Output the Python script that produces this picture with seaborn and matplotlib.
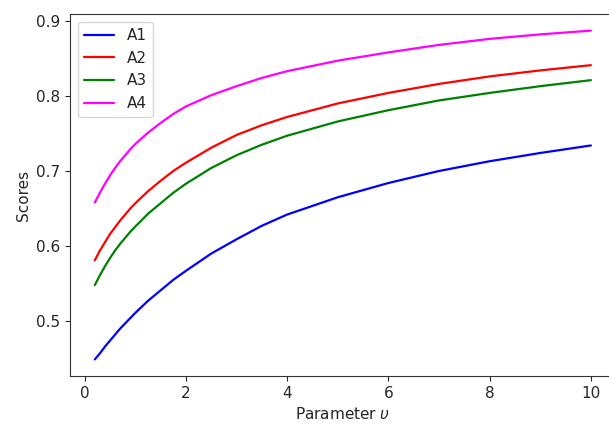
import numpy as np
import pandas as pd
import matplotlib
matplotlib.use("Agg")
import matplotlib.pyplot as plt
import seaborn as sns

# values
param = [0.2, 0.3, 0.4, 0.5, 0.6, 0.7, 0.8, 0.9, 1.0, 1.25, 1.5, 1.75, 2.0, 2.5, 3.0, 3.5,
         4.0, 5.0, 6.0, 7.0, 8.0, 9.0, 10.0]
a1 = [0.449, 0.457, 0.466, 0.474, 0.482, 0.490, 0.497, 0.504, 0.511, 0.527, 0.541, 0.555, 0.567,
      0.590, 0.609, 0.627, 0.642, 0.665, 0.684, 0.700, 0.713, 0.724, 0.734]
a2 = [0.581, 0.594, 0.605, 0.616, 0.625, 0.634, 0.642, 0.650, 0.657, 0.673, 0.687, 0.700, 0.711,
      0.731, 0.748, 0.761, 0.772, 0.790, 0.804, 0.816, 0.826, 0.834, 0.841]
a3 = [0.548, 0.561, 0.573, 0.584, 0.594, 0.603, 0.611, 0.619, 0.626, 0.643, 0.657, 0.671, 0.683,
      0.704, 0.721, 0.735, 0.747, 0.766, 0.781, 0.794, 0.804, 0.813, 0.821]
a4 = [0.658, 0.671, 0.683, 0.694, 0.704, 0.713, 0.721, 0.729, 0.736, 0.751, 0.764, 0.776, 0.786,
      0.801, 0.813, 0.824, 0.833, 0.847, 0.858, 0.868, 0.876, 0.882, 0.887]
names = ["A1", "A2", "A3", "A4"]
colors = ["blue", "red", "green", "magenta"]

# long format for seaborn
df = pd.concat([pd.DataFrame({"x": param, "score": s, "alt": n})
                for n, s in zip(names, [a1, a2, a3, a4])])

sns.set_style("ticks")
plt.rcParams["axes.edgecolor"] = "#333333"

fig = plt.figure(figsize=(6.09, 4.3), dpi=100)
ax = fig.add_axes([0.115, 0.126, 0.896, 0.841])
sns.lineplot(data=df, x="x", y="score", hue="alt", palette=dict(zip(names, colors)),
             linewidth=1.6, ax=ax)

# original picture is cropped at the right, so no right spine shows
ax.spines["right"].set_visible(False)
ax.set_xlim(-0.29, 10.49)
ax.set_xticks([0, 2, 4, 6, 8, 10])
ax.set_yticks([0.5, 0.6, 0.7, 0.8, 0.9])
ax.tick_params(labelsize=11)
ax.set_xlabel("Parameter $\\upsilon$", fontsize=11)
ax.set_ylabel("Scores", fontsize=11)
ax.legend(loc="upper left", fontsize=11, title=None)

fig.savefig("out.png", dpi=100)
